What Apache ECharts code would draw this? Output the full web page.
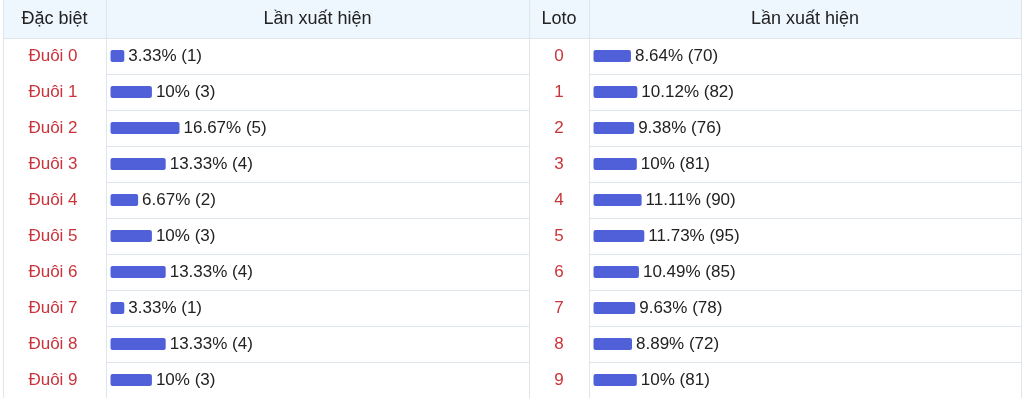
<!DOCTYPE html>
<html>
<head>
<meta charset="utf-8">
<script src="https://cdn.jsdelivr.net/npm/echarts@6/dist/echarts.min.js"></script>
<style>
  html, body { margin: 0; padding: 0; background: #fff; }
  #chart { width: 1024px; height: 398px; }
</style>
</head>
<body>
<div id="chart"></div>
<script>
const specialLabels = ['Đuôi 0', 'Đuôi 1', 'Đuôi 2', 'Đuôi 3', 'Đuôi 4', 'Đuôi 5', 'Đuôi 6', 'Đuôi 7', 'Đuôi 8', 'Đuôi 9']
const specialPct = [3.33, 10, 16.67, 13.33, 6.67, 10, 13.33, 3.33, 13.33, 10]
const specialCount = [1, 3, 5, 4, 2, 3, 4, 1, 4, 3]

const lotoLabels = ['0', '1', '2', '3', '4', '5', '6', '7', '8', '9']
const lotoPct = [8.64, 10.12, 9.38, 10, 11.11, 11.73, 10.49, 9.63, 8.89, 10]
const lotoCount = [70, 82, 76, 81, 90, 95, 85, 78, 72, 81]

const headers = ['Đặc biệt', 'Lần xuất hiện', 'Loto', 'Lần xuất hiện']

const FONT = '"Liberation Sans", Arial, sans-serif'
const BORDER = '#dfe5ec'
const RED = '#c9333a'
const BAR = '#5060d8'
const TEXT = '#222'

const chart = echarts.init(document.getElementById('chart'), null, { renderer: 'canvas' })

function catAxis(gridIndex, data, margin) {
  return {
    type: 'category',
    gridIndex,
    data,
    inverse: true,
    axisLine: { show: false },
    axisTick: { show: false },
    axisLabel: {
      color: RED, fontSize: 17, fontFamily: FONT,
      align: 'center', margin, interval: 0
    },
    splitLine: { show: true, interval: 0, lineStyle: { color: BORDER, width: 1 } }
  }
}

function valAxis(gridIndex, min, max) {
  return {
    type: 'value', gridIndex, min, max,
    show: false,
    splitLine: { show: false }
  }
}

function barSeries(idx, pct, counts) {
  return {
    type: 'bar',
    xAxisIndex: idx,
    yAxisIndex: idx,
    data: pct,
    barWidth: 12,
    itemStyle: { color: BAR, borderRadius: 2 },
    label: {
      show: true,
      position: 'right',
      distance: 4,
      color: TEXT,
      fontSize: 17,
      fontFamily: FONT,
      formatter: p => `${p.value}% (${counts[p.dataIndex]})`
    },
    silent: true
  }
}

const colX = [3, 106, 529, 589, 1021]
const graphic = [
  { type: 'rect', shape: { x: 3, y: 0, width: 1018, height: 38 }, style: { fill: '#eef6fe' }, z: -1 }
]
headers.forEach((h, i) => {
  graphic.push({
    type: 'text',
    x: (colX[i] + colX[i + 1]) / 2, y: 19,
    style: { text: h, fill: TEXT, font: `18px ${FONT}`, align: 'center', verticalAlign: 'middle' }
  })
})
colX.forEach(x => {
  graphic.push({
    type: 'line',
    shape: { x1: x + 0.5, y1: 0, x2: x + 0.5, y2: 398 },
    style: { stroke: BORDER, lineWidth: 1 }
  })
})
graphic.push({ type: 'line', shape: { x1: 3, y1: 38.5, x2: 1021, y2: 38.5 }, style: { stroke: BORDER, lineWidth: 1 } })

chart.setOption({
  animation: false,
  backgroundColor: '#fff',
  grid: [
    { left: 106, top: 38, width: 423, height: 360 },
    { left: 589, top: 38, width: 432, height: 360 }
  ],
  xAxis: [valAxis(0, -1.09, 101.1), valAxis(1, -1.04, 98.7)],
  yAxis: [catAxis(0, specialLabels, 53), catAxis(1, lotoLabels, 30)],
  series: [barSeries(0, specialPct, specialCount), barSeries(1, lotoPct, lotoCount)],
  graphic
})
</script>
</body>
</html>
